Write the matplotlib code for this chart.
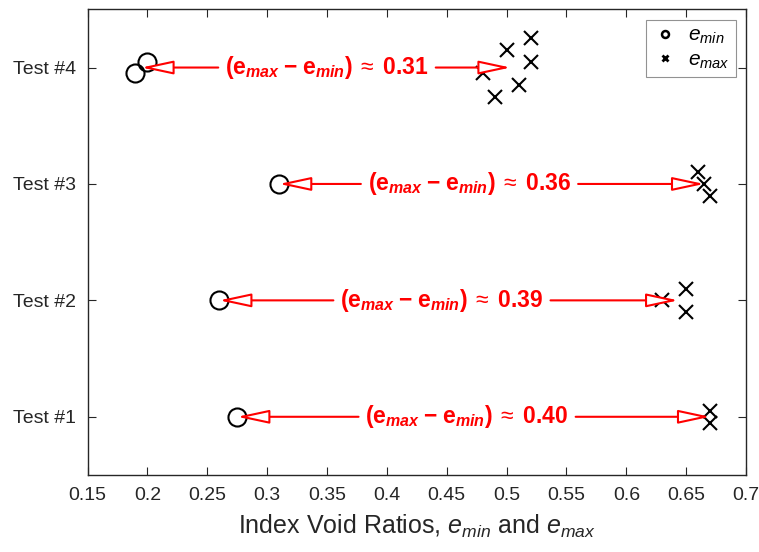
import matplotlib
matplotlib.use("Agg")
import matplotlib.pyplot as plt
import numpy as np

plt.rcParams['font.family'] = ['Liberation Sans', 'DejaVu Sans']
plt.rcParams['mathtext.fontset'] = 'custom'
plt.rcParams['mathtext.rm'] = 'Liberation Sans'
plt.rcParams['mathtext.it'] = 'Liberation Sans:italic'
plt.rcParams['mathtext.bf'] = 'Liberation Sans:bold'
plt.rcParams['mathtext.bfit'] = 'Liberation Sans:bold:italic'
plt.rcParams['mathtext.sf'] = 'Liberation Sans'

tests = ["Test #1", "Test #2", "Test #3", "Test #4"]

# e_min data: (x, y)
emin_x = [0.275, 0.26, 0.31, 0.20, 0.19]
emin_y = [1.0, 2.0, 3.0, 4.05, 3.95]
emin_test = [1, 2, 3, 4, 4]

# e_max data
emax_x = [0.67, 0.67, 0.63, 0.65, 0.65, 0.66, 0.665, 0.67,
          0.52, 0.50, 0.52, 0.48, 0.51, 0.49]
emax_y = [1.05, 0.95, 2.0, 2.1, 1.9, 3.1, 3.0, 2.9,
          4.25, 4.15, 4.05, 3.95, 3.85, 3.75]
emax_test = [1, 1, 2, 2, 2, 3, 3, 3, 4, 4, 4, 4, 4, 4]

diff_labels = ["0.40", "0.39", "0.36", "0.31"]
label_x = [0.467, 0.446, 0.469, 0.35]

fig = plt.figure(figsize=(7.59, 5.52), dpi=100)
ax = fig.add_axes([0.1153, 0.1395, 0.8677, 0.8436])

ax.plot(emin_x, emin_y, 'o', ms=13, mfc='none', mec='black', mew=1.5, ls='none')
ax.plot(emax_x, emax_y, 'x', ms=10, mec='black', mew=1.5, ls='none')

# legend with small markers
h1, = ax.plot([], [], 'o', ms=5, mfc='none', mec='black', mew=1.8, ls='none')
h2, = ax.plot([], [], 'x', ms=4, mec='black', mew=2.0, ls='none')
leg = ax.legend([h1, h2], [r'$e_{min}$', r'$e_{max}$'], loc='upper right',
                fontsize=15, frameon=True, fancybox=False, edgecolor='#777777',
                handletextpad=0.5, borderpad=0.3, labelspacing=0.2,
                handlelength=1.2, borderaxespad=0.5)
leg.get_frame().set_linewidth(0.8)

emin_x_a = np.array(emin_x); emax_x_a = np.array(emax_x)
emin_t = np.array(emin_test); emax_t = np.array(emax_test)
for i in range(4):
    t = i + 1
    lo = emin_x_a[emin_t == t].mean()
    hi = emax_x_a[emax_t == t].mean()
    txt = (r'$\mathbf{(e}_{\mathbfit{max}}\;\mathbf{-}\;\mathbf{e}_{\mathbfit{min}}\mathbf{)}'
           r'\;\approx\;\mathbf{' + diff_labels[i] + r'}$')
    ap = dict(arrowstyle='-|>,head_length=1.4,head_width=0.3', color='red',
              fc='white', ec='red', lw=1.5, mutation_scale=14, shrinkA=3, shrinkB=0)
    ax.annotate(txt, xy=(lo, t), xytext=(label_x[i], t), ha='center', va='center',
                color='red', fontsize=16.5, arrowprops=ap)
    ax.annotate(txt, xy=(hi, t), xytext=(label_x[i], t), ha='center', va='center',
                color='none', fontsize=16.5, arrowprops=ap)

ax.set_xlim(0.15, 0.7)
ax.set_ylim(0.5, 4.5)
ax.set_xticks(np.arange(0.15, 0.7001, 0.05))
ax.set_xticklabels(['0.15', '0.2', '0.25', '0.3', '0.35', '0.4', '0.45', '0.5',
                    '0.55', '0.6', '0.65', '0.7'])
ax.set_yticks([1, 2, 3, 4])
ax.set_yticklabels(tests)
ax.tick_params(direction='in', top=True, right=True, length=6, width=0.8,
               colors='#262626', labelcolor='#262626')
ax.tick_params(axis='x', labelsize=14, pad=9)
ax.tick_params(axis='y', labelsize=14, pad=8)
for s in ax.spines.values():
    s.set_color('#262626')
    s.set_linewidth(1.0)
ax.set_xlabel(r'Index Void Ratios, $e_{min}$ and $e_{max}$', fontsize=18,
              color='#262626', labelpad=6)

fig.savefig('out.png', dpi=100)
